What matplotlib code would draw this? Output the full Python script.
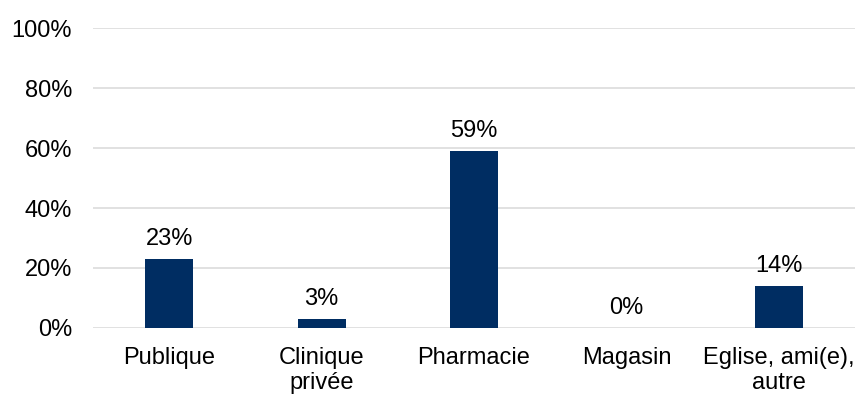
import matplotlib.pyplot as plt

categories = ["Publique", "Clinique\nprivée", "Pharmacie", "Magasin", "Eglise, ami(e),\nautre"]
values = [23, 3, 59, 0, 14]
yticks = [0, 20, 40, 60, 80, 100]

BAR_COLOR = "#002D62"
GRID_COLOR = "#D9D9D9"
FONT_SIZE = 17

plt.rcParams["font.family"] = ["Liberation Sans", "DejaVu Sans"]

fig = plt.figure(figsize=(8.64, 3.94), dpi=100)
ax = fig.add_axes([93 / 864, 1 - 328 / 394, (855 - 93) / 864, 300 / 394])

x = list(range(len(categories)))
bars = ax.bar(x, values, width=0.315, color=BAR_COLOR, zorder=3)

for bar, value in zip(bars, values):
    ax.text(bar.get_x() + bar.get_width() / 2, value + 3.0, f"{value}%",
            ha="center", va="bottom", fontsize=FONT_SIZE, color="#000000")

ax.set_xlim(-0.5, len(categories) - 0.5)
ax.set_ylim(0, 100)
ax.set_yticks(yticks)
ax.set_yticklabels([f"{t}%" for t in yticks])
ax.set_xticks(x)
ax.set_xticklabels(categories, linespacing=1.15)

ax.grid(axis="y", color=GRID_COLOR, linewidth=1.1, zorder=0)
for side in ["top", "right", "left", "bottom"]:
    ax.spines[side].set_visible(False)
ax.tick_params(axis="both", length=0, labelsize=FONT_SIZE, colors="#000000")
ax.tick_params(axis="y", pad=15)
ax.tick_params(axis="x", pad=14)

fig.savefig("out.png", dpi=100)
